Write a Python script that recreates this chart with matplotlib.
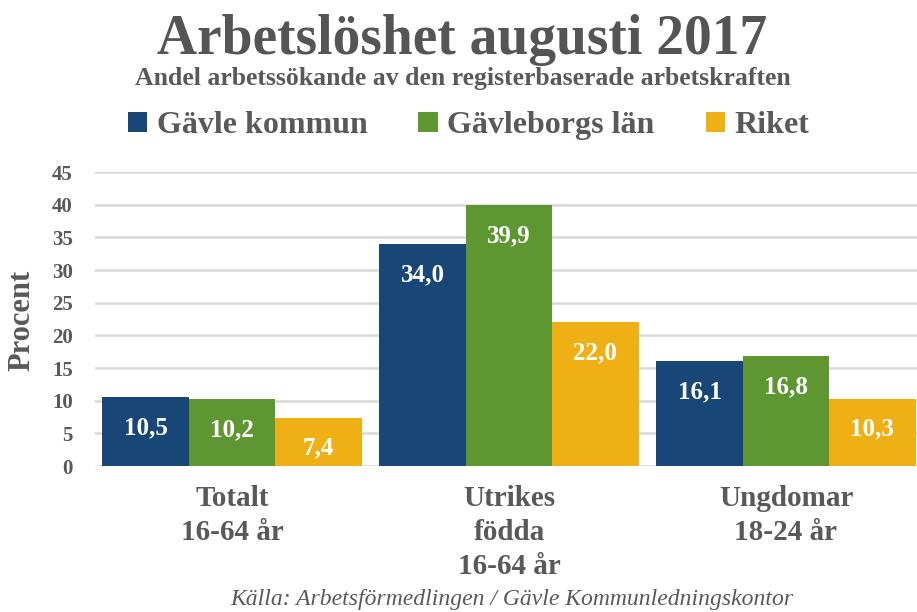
import matplotlib
matplotlib.use("Agg")
import matplotlib.pyplot as plt
from matplotlib.patches import Patch
import numpy as np

categories = ["Totalt\n16-64 år", "Utrikes\nfödda\n16-64 år", "Ungdomar\n18-24 år"]
series_names = ["Gävle kommun", "Gävleborgs län", "Riket"]
gavle_kommun = [10.5, 34.0, 16.1]
gavleborgs_lan = [10.2, 39.9, 16.8]
riket = [7.4, 22.0, 10.3]
yticks = [0, 5, 10, 15, 20, 25, 30, 35, 40, 45]

colors = ["#174677", "#5E9732", "#EEB015"]
textc = "#595959"
font = "Liberation Serif"

W, H = 917, 612
fig = plt.figure(figsize=(W / 100, H / 100), dpi=100)
ax_left, ax_right = 95 / W, 917 / W
ax_bottom, ax_top = (H - 466) / H, (H - 172) / H
ax = fig.add_axes([ax_left, ax_bottom, ax_right - ax_left, ax_top - ax_bottom])

x = np.arange(len(categories))
bw = 0.312
data = [gavle_kommun, gavleborgs_lan, riket]
for i, (vals, c) in enumerate(zip(data, colors)):
    pos = x + (i - 1) * bw
    bars = ax.bar(pos, vals, width=bw, color=c, zorder=3)
    for b, v in zip(bars, vals):
        ax.annotate(f"{v:.1f}".replace(".", ","),
                    (b.get_x() + b.get_width() / 2, v),
                    xytext=(0, -22), textcoords="offset points",
                    ha="center", va="center", color="white",
                    fontsize=18, fontweight="bold", family=font, zorder=4)

ax.set_xlim(-0.4946, 2.473)
ax.set_ylim(0, 45)
ax.set_yticks(yticks)
ax.set_yticklabels([str(t) for t in yticks], fontsize=15, fontweight="bold",
                   color=textc, family=font)
ax.tick_params(axis="y", length=0, pad=16)
ax.set_xticks([])
ax.yaxis.grid(True, color="#D9D9D9", linewidth=1.8, zorder=0)
ax.set_axisbelow(True)
for s in ax.spines.values():
    s.set_visible(False)

# category labels
for xi, lab in zip(x, categories):
    ax.annotate(lab, (xi, 0), xytext=(0, -14), textcoords="offset points",
                ha="center", va="top", fontsize=21, fontweight="bold",
                color=textc, family=font, linespacing=1.32)

fig.text(22 / W, 1 - 320 / H, "Procent", rotation=90, ha="center", va="center",
         fontsize=22, fontweight="bold", color=textc, family=font)

fig.text(0.5 * (155 + 770) / W, 1 - 40 / H, "Arbetslöshet augusti 2017",
         ha="center", va="center", fontsize=40, fontweight="bold",
         color="#555555", family=font)
fig.text(0.5 * (115 + 810) / W, 1 - 78 / H,
         "Andel arbetssökande av den registerbaserade arbetskraften",
         ha="center", va="center", fontsize=18.5, fontweight="bold",
         color=textc, family=font)

handles = [Patch(facecolor=c, edgecolor="none") for c in colors]
leg = fig.legend(handles, series_names, loc="center", ncol=3,
                 bbox_to_anchor=(0.5 * (127 + 810) / W, 1 - 126 / H),
                 frameon=False, handlelength=0.6, handleheight=0.6,
                 handletextpad=0.3, columnspacing=1.6,
                 prop={"family": font, "weight": "bold", "size": 23})
for t in leg.get_texts():
    t.set_color(textc)

fig.text(0.5 * (225 + 798) / W, 1 - 599 / H,
         "Källa: Arbetsförmedlingen / Gävle Kommunledningskontor",
         ha="center", va="center", fontsize=17, style="italic",
         color=textc, family=font)

fig.savefig("out.png", dpi=100)
